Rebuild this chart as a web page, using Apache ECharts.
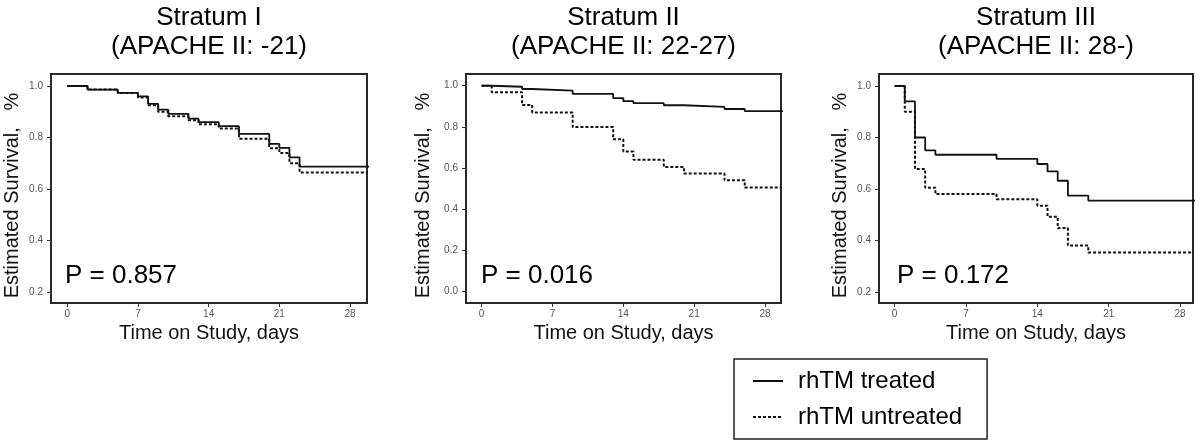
<!DOCTYPE html>
<html>
<head>
<meta charset="utf-8">
<script src="https://cdn.jsdelivr.net/npm/echarts@6/dist/echarts.min.js"></script>
<style>
html,body{margin:0;padding:0;background:#fff;}
#chart{width:1200px;height:444px;}
</style>
</head>
<body>
<div id="chart"></div>
<script>
// ---- data ----
const panelTitles = ['Stratum I', 'Stratum II', 'Stratum III'];
const panelSubtitles = ['(APACHE II: -21)', '(APACHE II: 22-27)', '(APACHE II: 28-)'];
const pValues = ['P = 0.857', 'P = 0.016', 'P = 0.172'];
const seriesNames = ['rhTM treated', 'rhTM untreated'];
const xTicks = [0, 7, 14, 21, 28];
const yTicks1 = [0.2, 0.4, 0.6, 0.8, 1.0];
const yTicks2 = [0.0, 0.2, 0.4, 0.6, 0.8, 1.0];
const yTicks3 = [0.2, 0.4, 0.6, 0.8, 1.0];

const s1Days = [0, 2, 5, 7, 8, 9, 10, 12, 13, 15, 17, 20, 21, 22, 23, 30];
const s1Treated = [1, 0.986, 0.973, 0.96, 0.931, 0.908, 0.892, 0.873, 0.86, 0.844, 0.814, 0.775, 0.76, 0.723, 0.687, 0.687];
const s1Untreated = [1, 0.986, 0.973, 0.955, 0.925, 0.9, 0.883, 0.867, 0.851, 0.835, 0.795, 0.758, 0.74, 0.7, 0.664, 0.664];

const s2Days = [0, 1, 4, 5, 9, 13, 14, 15, 18, 20, 24, 26, 30];
const s2Treated = [1, 0.995, 0.984, 0.976, 0.96, 0.94, 0.925, 0.915, 0.905, 0.897, 0.887, 0.877, 0.877];
const s2Untreated = [1, 0.968, 0.906, 0.87, 0.80, 0.74, 0.68, 0.64, 0.605, 0.573, 0.54, 0.505, 0.505];

const s3Days = [0, 1, 2, 3, 4, 10, 14, 15, 16, 17, 19, 30];
const s3Treated = [1, 0.94, 0.80, 0.75, 0.733, 0.717, 0.697, 0.668, 0.632, 0.574, 0.555, 0.555];
const s3Untreated = [1, 0.9, 0.678, 0.605, 0.58, 0.56, 0.535, 0.492, 0.448, 0.38, 0.353, 0.353];

// ---- layout ----
const FONT = '"Liberation Sans", Arial, sans-serif';
const grids = [
  {left: 51, top: 74, width: 316, height: 229},
  {left: 466, top: 74, width: 315, height: 229},
  {left: 879, top: 74, width: 314, height: 229}
];
const xRanges = [[-1.61, 29.68], [-1.54, 29.58], [-1.53, 29.27]];
const yRanges = [[0.157, 1.0467], [-0.056, 1.057], [0.157, 1.0467]];
const yTickSets = [yTicks1, yTicks2, yTicks3];
const yNameGaps = [29, 33, 29];
const panelData = [
  [s1Days, s1Treated, s1Untreated],
  [s2Days, s2Treated, s2Untreated],
  [s3Days, s3Treated, s3Untreated]
];

const pairs = (xs, ys) => xs.map((x, i) => [x, ys[i]]);

const gridOpts = grids.map(g => Object.assign({
  show: true, borderColor: '#2a2a2a', borderWidth: 2, backgroundColor: '#fff', containLabel: false
}, g));

const xAxes = grids.map((g, i) => ({
  type: 'value', gridIndex: i, min: xRanges[i][0], max: xRanges[i][1], position: 'bottom',
  name: 'Time on Study, days', nameLocation: 'middle', nameGap: 19,
  nameTextStyle: {fontFamily: FONT, fontSize: 20, color: '#111'},
  axisLine: {show: false, onZero: false},
  splitLine: {show: false},
  axisTick: {show: true, length: 4, lineStyle: {color: '#333', width: 1}, customValues: xTicks},
  axisLabel: {show: true, margin: 6, color: '#555', fontFamily: FONT, fontSize: 10, customValues: xTicks}
}));

const yAxes = grids.map((g, i) => ({
  type: 'value', gridIndex: i, min: yRanges[i][0], max: yRanges[i][1], position: 'left',
  name: 'Estimated Survival,   %', nameLocation: 'middle', nameGap: yNameGaps[i],
  nameTextStyle: {fontFamily: FONT, fontSize: 20, color: '#111', padding: [0, 14, 0, 0]},
  axisLine: {show: false, onZero: false},
  splitLine: {show: false},
  axisTick: {show: true, length: 4, lineStyle: {color: '#333', width: 1}, customValues: yTickSets[i]},
  axisLabel: {show: true, margin: 8, color: '#555', fontFamily: FONT, fontSize: 10,
    customValues: yTickSets[i], formatter: v => Number(v).toFixed(1)}
}));

const series = [];
panelData.forEach((pd, i) => {
  series.push({
    name: seriesNames[0], type: 'line', step: 'end', xAxisIndex: i, yAxisIndex: i,
    data: pairs(pd[0], pd[1]), symbol: 'none', clip: true, animation: false,
    lineStyle: {color: '#111', width: 1.8, type: 'solid'}, itemStyle: {color: '#111'}
  });
  series.push({
    name: seriesNames[1], type: 'line', step: 'end', xAxisIndex: i, yAxisIndex: i,
    data: pairs(pd[0], pd[2]), symbol: 'none', clip: true, animation: false,
    lineStyle: {color: '#111', width: 2, type: [3, 2]}, itemStyle: {color: '#111'}
  });
});

const centers = grids.map(g => g.left + g.width / 2);
const graphics = [];
centers.forEach((cx, i) => {
  graphics.push({type: 'text', x: cx, y: 18, style: {text: panelTitles[i], font: '26px ' + FONT,
    fill: '#000', textAlign: 'center', textVerticalAlign: 'middle'}});
  graphics.push({type: 'text', x: cx, y: 47, style: {text: panelSubtitles[i], font: '26px ' + FONT,
    fill: '#000', textAlign: 'center', textVerticalAlign: 'middle'}});
});
const pLeft = [65, 481, 897];
pLeft.forEach((x, i) => {
  graphics.push({type: 'text', x: x, y: 276, z: 10, style: {text: pValues[i], font: '26px ' + FONT,
    fill: '#000', textAlign: 'left', textVerticalAlign: 'middle'}});
});

const chart = echarts.init(document.getElementById('chart'), null, {renderer: 'canvas'});
chart.setOption({
  backgroundColor: '#fff',
  animation: false,
  grid: gridOpts,
  xAxis: xAxes,
  yAxis: yAxes,
  series: series,
  graphic: graphics,
  legend: {
    data: seriesNames, orient: 'vertical', left: 734, top: 359,
    itemWidth: 30, itemHeight: 14, itemGap: 12,
    padding: [10, 25, 10, 18],
    borderColor: '#222', borderWidth: 1.5, backgroundColor: '#fff',
    selectedMode: false,
    itemStyle: {opacity: 0},
    textStyle: {fontFamily: FONT, fontSize: 24, color: '#000', lineHeight: 24, padding: [0, 0, 0, 10]}
  }
});
</script>
</body>
</html>
